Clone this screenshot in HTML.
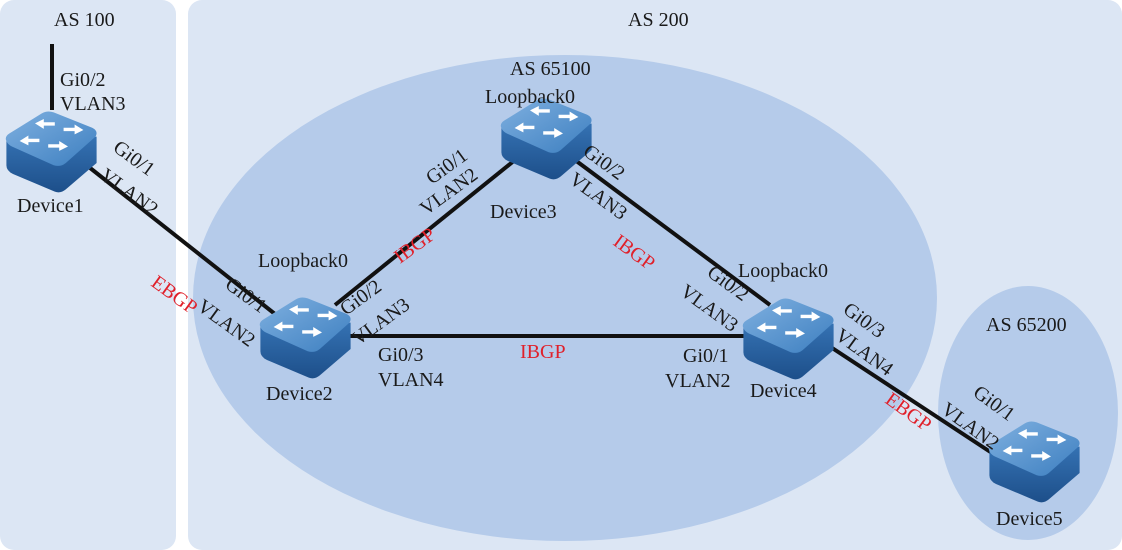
<!DOCTYPE html>
<html><head><meta charset="utf-8"><style>
html,body{margin:0;padding:0;background:#fff}
svg{display:block}
text{font-family:"Liberation Serif",serif;font-size:20px;fill:#1a1a1a}
.r{fill:#e0202a}
</style></head><body>
<svg width="1122" height="550" viewBox="0 0 1122 550" xmlns="http://www.w3.org/2000/svg">
<defs>
<linearGradient id="tg" x1="0" y1="0" x2="1" y2="1"><stop offset="0" stop-color="#7fb0e0"/><stop offset="1" stop-color="#3d7fc0"/></linearGradient>
<linearGradient id="sg" x1="0" y1="0" x2="0" y2="1"><stop offset="0" stop-color="#3572b3"/><stop offset="1" stop-color="#1d4f8a"/></linearGradient>
<g id="dev" transform="scale(1.1)">
<path d="M4,30 L4,52 Q4,57 10,60 L48,76 Q53,78 58,74 L86,50 L86,26 Z" fill="url(#sg)"/>
<path d="M4,30 Q2,26 7,23 L36,5 Q41,2 47,4 L82,18 Q88,21 85,26 L58,50 Q53,54 47,52 L9,35 Q5,33 4,30 Z" fill="url(#tg)"/>
<g fill="#fff">
<path d="M30,14 l8,-4 l0,3 l10,0 l0,3 l-10,0 l0,3 z"/>
<path d="M56,18 l10,0 l0,-3 l8,5 l-8,4 l0,-3 l-10,0 z"/>
<path d="M16,30 l8,-5 l0,3 l10,0 l0,3 l-10,0 l0,3 z"/>
<path d="M42,33 l10,0 l0,-3 l8,5 l-8,4 l0,-3 l-10,0 z"/>
</g>
</g>
</defs>
<rect x="0" y="0" width="176" height="550" rx="14" fill="#dce6f4"/>
<rect x="188" y="0" width="934" height="550" rx="14" fill="#dce6f4"/>
<ellipse cx="565" cy="298" rx="372" ry="243" fill="#b5cbea"/>
<ellipse cx="1028" cy="413" rx="90" ry="127" fill="#b5cbea"/>
<g stroke="#111" stroke-width="4" fill="none">
<line x1="52" y1="44" x2="52" y2="110"/>
<line x1="80" y1="160" x2="280" y2="318"/>
<line x1="335" y1="305" x2="515" y2="160"/>
<line x1="575" y1="160" x2="770" y2="305"/>
<line x1="340" y1="336" x2="752" y2="336"/>
<line x1="820" y1="340" x2="995" y2="455"/>
</g>
<use href="#dev" x="2" y="108"/>
<use href="#dev" x="256" y="294"/>
<use href="#dev" x="497" y="95"/>
<use href="#dev" x="739" y="295"/>
<use href="#dev" x="985" y="418"/>
<text x="54" y="26">AS 100</text>
<text x="628" y="26">AS 200</text>
<text x="510" y="75">AS 65100</text>
<text x="986" y="331">AS 65200</text>
<text x="60" y="86">Gi0/2</text>
<text x="60" y="110">VLAN3</text>
<text x="17" y="212">Device1</text>
<text x="266" y="400">Device2</text>
<text x="490" y="218">Device3</text>
<text x="750" y="397">Device4</text>
<text x="996" y="525">Device5</text>
<text x="485" y="103">Loopback0</text>
<text x="258" y="267">Loopback0</text>
<text x="738" y="277">Loopback0</text>
<text x="378" y="361">Gi0/3</text>
<text x="378" y="386">VLAN4</text>
<text x="683" y="362">Gi0/1</text>
<text x="665" y="387">VLAN2</text>
<text class="r" x="520" y="358">IBGP</text>
<text transform="translate(112,150) rotate(36)">Gi0/1</text>
<text transform="translate(99,178) rotate(36)">VLAN2</text>
<text class="r" transform="translate(150,285) rotate(36)">EBGP</text>
<text transform="translate(224,287) rotate(36)">Gi0/1</text>
<text transform="translate(196,309) rotate(36)">VLAN2</text>
<text transform="translate(432,185) rotate(-36)">Gi0/1</text>
<text transform="translate(426,216) rotate(-36)">VLAN2</text>
<text class="r" transform="translate(400,264) rotate(-36)">IBGP</text>
<text transform="translate(346,316) rotate(-36)">Gi0/2</text>
<text transform="translate(358,346) rotate(-36)">VLAN3</text>
<text transform="translate(582,154) rotate(36)">Gi0/2</text>
<text transform="translate(568,182) rotate(36)">VLAN3</text>
<text class="r" transform="translate(612,244) rotate(36)">IBGP</text>
<text transform="translate(706,275) rotate(36)">Gi0/2</text>
<text transform="translate(679,294) rotate(36)">VLAN3</text>
<text transform="translate(842,312) rotate(36)">Gi0/3</text>
<text transform="translate(834,338) rotate(36)">VLAN4</text>
<text class="r" transform="translate(884,402) rotate(36)">EBGP</text>
<text transform="translate(972,395) rotate(36)">Gi0/1</text>
<text transform="translate(940,412) rotate(36)">VLAN2</text>
</svg>
</body></html>
